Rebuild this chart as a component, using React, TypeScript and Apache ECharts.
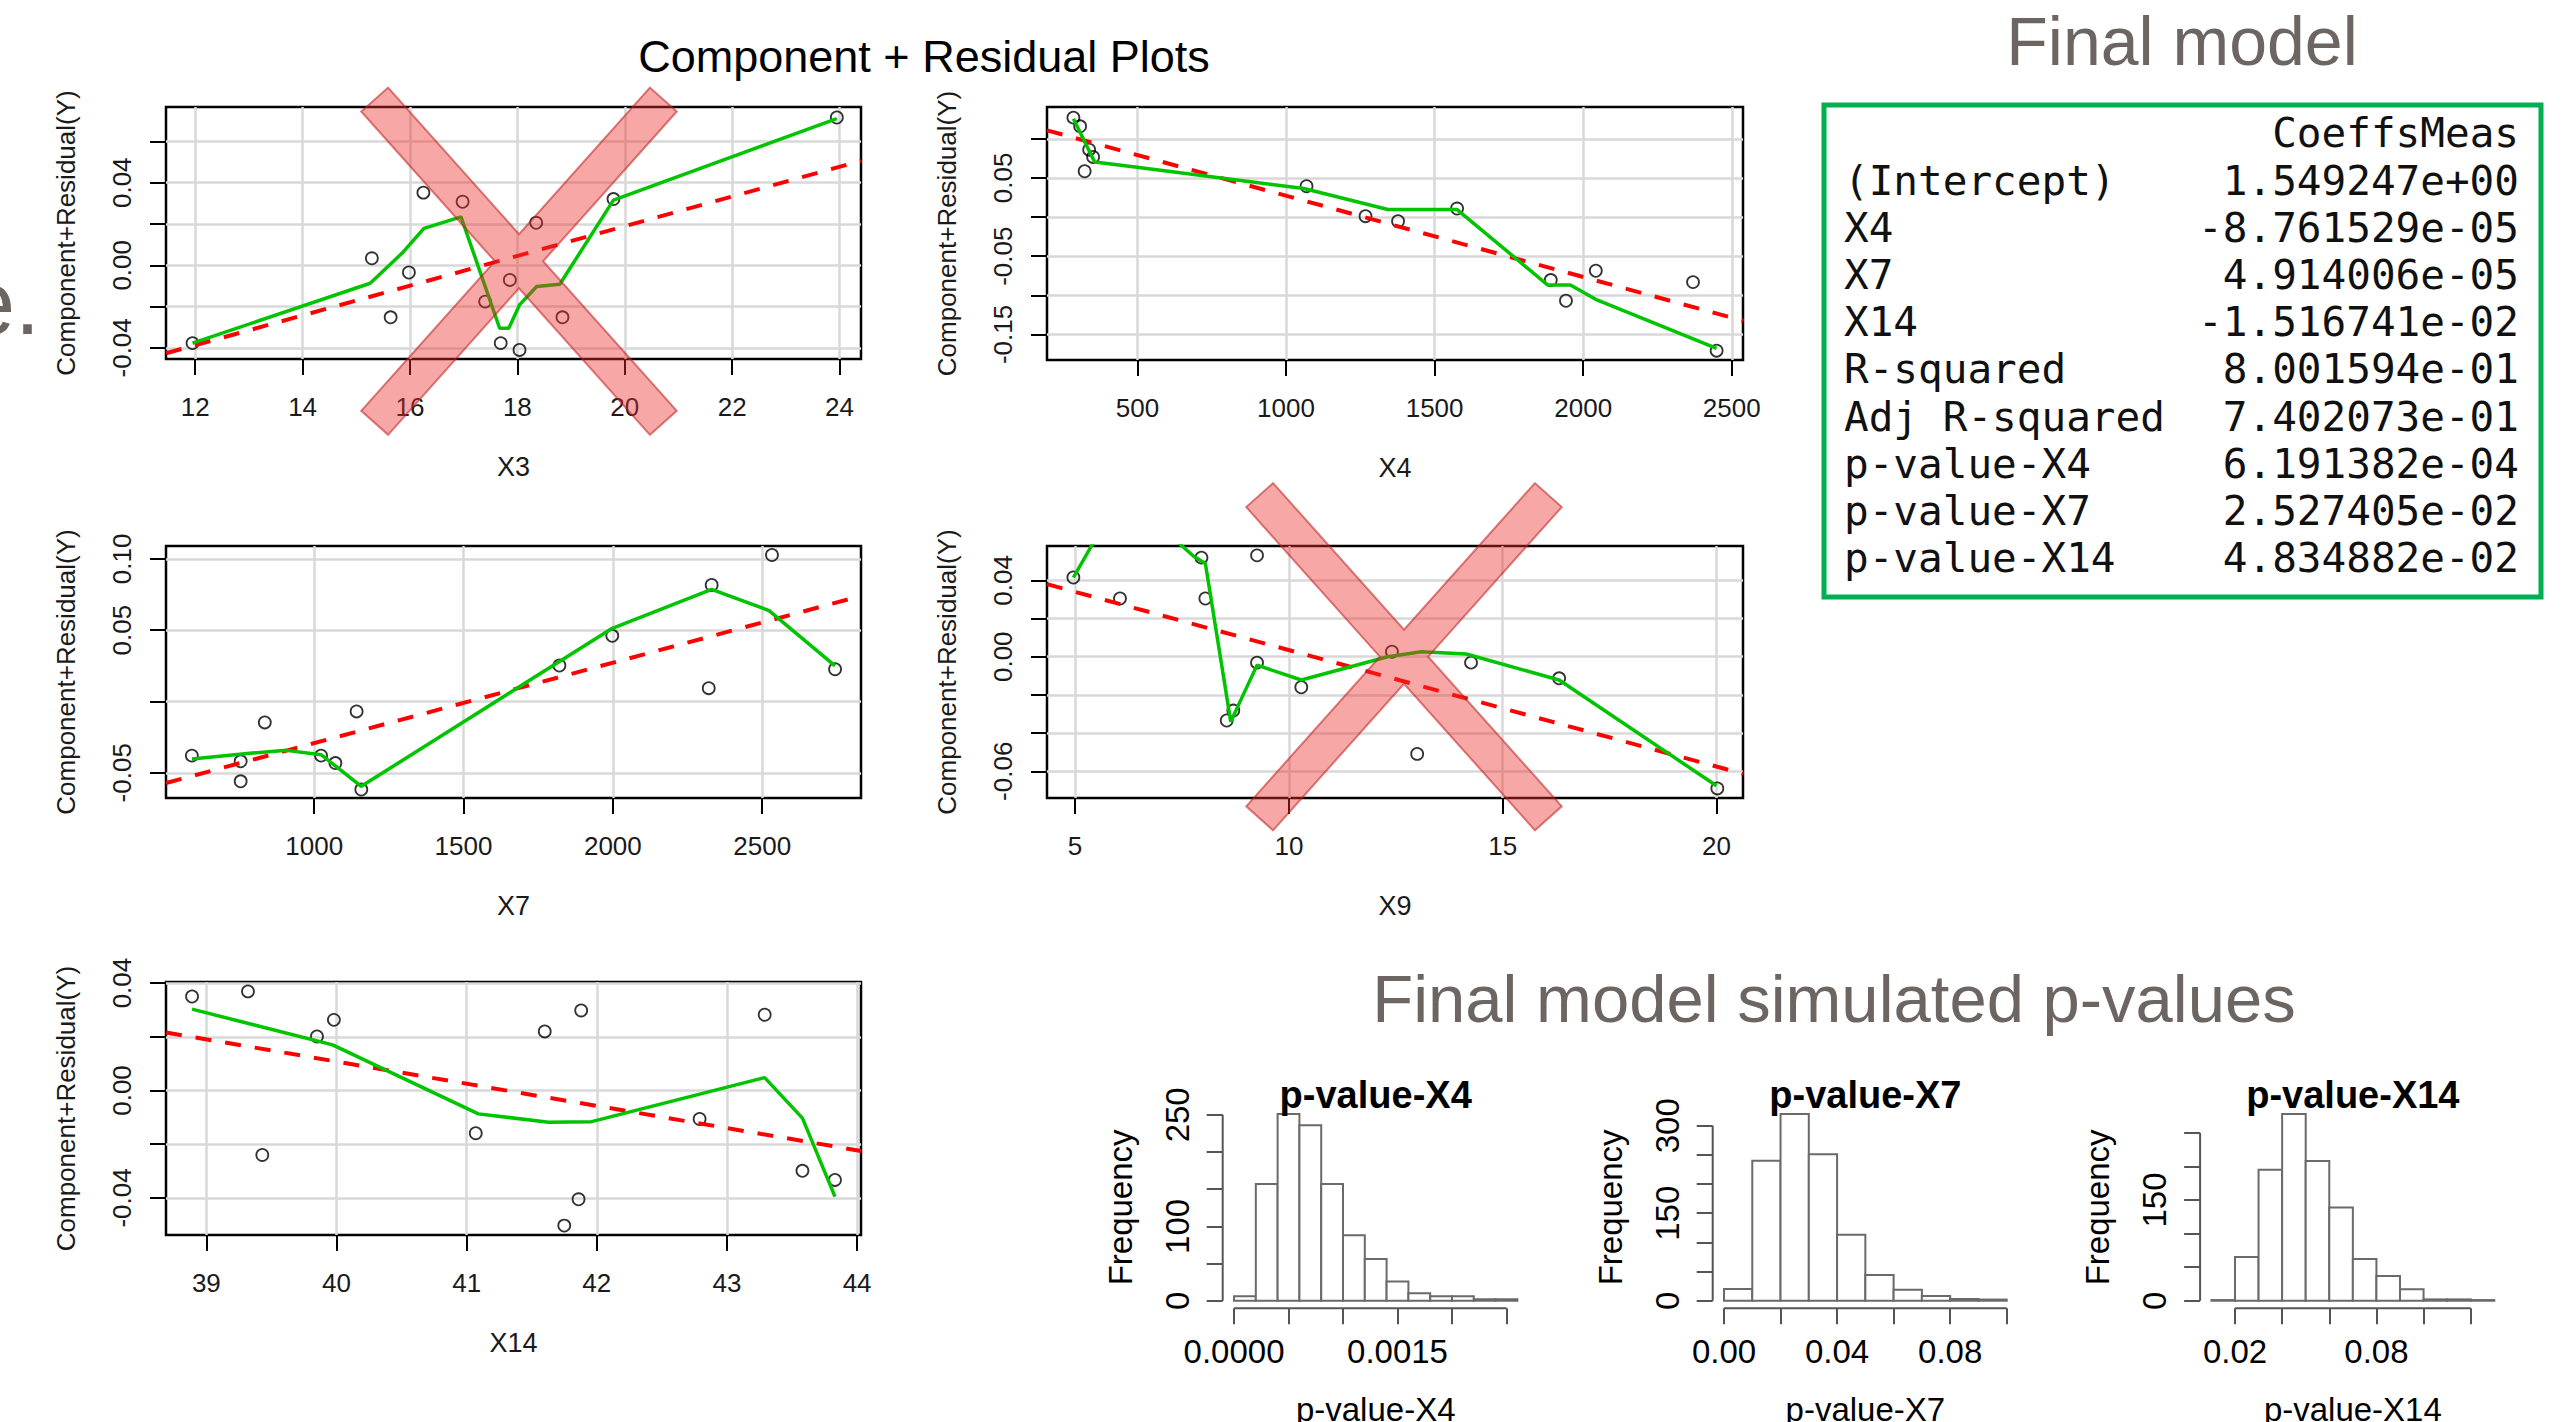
import React, { useEffect, useRef } from "react";
import * as echarts from "echarts";

// ---------------- Component + Residual panels: data ----------------
// X3
const x3PointX = [11.95, 15.29, 16.25, 15.98, 15.64, 16.98, 18.35, 17.86, 17.4, 17.69, 18.04, 18.84, 19.79, 23.95];
const x3PointY = [-0.0377, 0.0034, 0.0352, -0.0035, -0.0252, 0.0308, 0.0206, -0.0071, -0.0176, -0.0377, -0.041, -0.0252, 0.0321, 0.0716];
const x3FitX = [11.456, 24.4];
const x3FitY = [-0.0426, 0.0506];
const x3SmoothX = [11.95, 15.26, 15.85, 16.26, 16.95, 17.67, 17.84, 18.04, 18.36, 18.79, 19.79, 23.95];
const x3SmoothY = [-0.0377, -0.0087, 0.0058, 0.0179, 0.0235, -0.0305, -0.0305, -0.0192, -0.0103, -0.0092, 0.0316, 0.0711];
const x3XLim = [11.456, 24.4];
const x3YLim = [-0.0454, 0.0767];
const x3XTicks = [12, 14, 16, 18, 20, 22, 24];
const x3YTicks = [-0.04, -0.02, 0, 0.02, 0.04, 0.06];
const x3YLabels = [-0.04, 0, 0.04];

// X4
const x4PointX = [284.5, 307, 337.4, 350.7, 322.3, 1069, 1267.5, 1377, 1575.6, 1891, 1942, 2042.5, 2369.6, 2449];
const x4PointY = [0.127, 0.1159, 0.0861, 0.0768, 0.0585, 0.0394, 0.0011, -0.0053, 0.0109, -0.0805, -0.1069, -0.0686, -0.0831, -0.1707];
const x4FitX = [195.6, 2537.8];
const x4FitY = [0.1108, -0.1324];
const x4SmoothX = [284.5, 356, 492, 1060, 1343, 1575.6, 1881, 1957, 2042, 2449];
const x4SmoothY = [0.1257, 0.0704, 0.064, 0.0364, 0.0096, 0.0096, -0.0869, -0.0869, -0.105, -0.1677];
const x4XLim = [195.6, 2537.8];
const x4YLim = [-0.1826, 0.1406];
const x4XTicks = [500, 1000, 1500, 2000, 2500];
const x4YTicks = [-0.15, -0.1, -0.05, 0, 0.05, 0.1];
const x4YLabels = [-0.15, -0.05, 0.05];

// X7
const x7PointX = [590.4, 753.8, 753.8, 834.6, 1023, 1071, 1142, 1157.7, 1821, 1998, 2321, 2330.8, 2532.7, 2744];
const x7PointY = [-0.038, -0.042, -0.056, -0.0147, -0.038, -0.0432, -0.007, -0.0618, 0.0252, 0.046, 0.0093, 0.0817, 0.1027, 0.0226];
const x7FitX = [503.8, 2830.8];
const x7FitY = [-0.0572, 0.074];
const x7SmoothX = [590.4, 792.3, 907.7, 1023, 1157.7, 1998, 2330.8, 2523, 2744];
const x7SmoothY = [-0.0404, -0.0362, -0.0343, -0.0373, -0.0595, 0.0513, 0.0786, 0.0637, 0.025];
const x7XLim = [503.8, 2830.8];
const x7YLim = [-0.0677, 0.109];
const x7XTicks = [1000, 1500, 2000, 2500];
const x7YTicks = [-0.05, 0, 0.05, 0.1];
const x7YLabels = [-0.05, 0.05, 0.1];

// X9
const x9PointX = [4.96, 6.05, 7.955, 8.047, 9.255, 9.255, 8.546, 8.7, 10.29, 12.41, 13.0, 14.26, 16.32, 20.02];
const x9PointY = [0.0415, 0.0305, 0.0519, 0.0305, 0.0531, -0.0031, -0.0334, -0.0282, -0.016, 0.0026, -0.0509, -0.0031, -0.0113, -0.069];
const x9FitX = [4.343, 20.62];
const x9FitY = [0.038, -0.0613];
const x9SmoothX = [4.96, 6.2, 7.3, 7.78, 8.047, 8.64, 9.255, 10.29, 12.31, 13.1, 14.15, 16.32, 20.0];
const x9SmoothY = [0.0415, 0.09, 0.062, 0.0525, 0.0488, -0.034, -0.0044, -0.0122, 0.0, 0.0026, 0.0014, -0.0122, -0.0676];
const x9XLim = [4.343, 20.62];
const x9YLim = [-0.074, 0.058];
const x9XTicks = [5, 10, 15, 20];
const x9YTicks = [-0.06, -0.04, -0.02, 0, 0.02, 0.04];
const x9YLabels = [-0.06, 0, 0.04];

// X14
const x14PointX = [38.89, 39.32, 39.43, 39.85, 39.98, 41.07, 41.6, 41.88, 41.86, 41.75, 42.79, 43.29, 43.58, 43.83];
const x14PointY = [0.035, 0.0369, -0.024, 0.0201, 0.0263, -0.0159, 0.022, 0.0298, -0.0405, -0.0503, -0.0106, 0.0282, -0.0299, -0.0333];
const x14FitX = [38.69, 44.03];
const x14FitY = [0.0216, -0.0225];
const x14SmoothX = [38.89, 39.97, 41.09, 41.63, 41.96, 43.29, 43.58, 43.83];
const x14SmoothY = [0.0303, 0.017, -0.0087, -0.0118, -0.0116, 0.0048, -0.0103, -0.0395];
const x14XLim = [38.69, 44.03];
const x14YLim = [-0.0538, 0.0404];
const x14XTicks = [39, 40, 41, 42, 43, 44];
const x14YTicks = [-0.04, -0.02, 0, 0.02, 0.04];
const x14YLabels = [-0.04, 0, 0.04];

// ---------------- Histograms: data ----------------
const h4Breaks = [0, 0.0002, 0.0004, 0.0006, 0.0008, 0.001, 0.0012, 0.0014, 0.0016, 0.0018, 0.002, 0.0022, 0.0024, 0.0026];
const h4Counts = [6, 157, 251, 236, 157, 88, 56, 26, 10, 6, 6, 2, 2];
const h4XTicks = [0, 0.0005, 0.001, 0.0015, 0.002, 0.0025];
const h4XLabels = [0, 0.0015];
const h4YTicks = [0, 50, 100, 150, 200, 250];
const h4YLabels = [0, 100, 250];

const h7Breaks = [0, 0.01, 0.02, 0.03, 0.04, 0.05, 0.06, 0.07, 0.08, 0.09, 0.1];
const h7Counts = [20, 240, 320, 251, 113, 44, 19, 8, 3, 2];
const h7XTicks = [0, 0.02, 0.04, 0.06, 0.08, 0.1];
const h7XLabels = [0, 0.04, 0.08];
const h7YTicks = [0, 50, 100, 150, 200, 250, 300];
const h7YLabels = [0, 150, 300];

const h14Breaks = [0.01, 0.02, 0.03, 0.04, 0.05, 0.06, 0.07, 0.08, 0.09, 0.1, 0.11, 0.12, 0.13];
const h14Counts = [1, 65, 195, 278, 208, 139, 62, 37, 17, 2, 2, 1];
const h14XTicks = [0.02, 0.04, 0.06, 0.08, 0.1, 0.12];
const h14XLabels = [0.02, 0.08];
const h14YTicks = [0, 50, 100, 150, 200, 250];
const h14YLabels = [0, 150];

// ---------------- Table ----------------
const tableHeader = "CoeffsMeas";
const tableLabels = ["(Intercept)", "X4", "X7", "X14", "R-squared", "Adj R-squared", "p-value-X4", "p-value-X7", "p-value-X14"];
const tableValues = ["1.549247e+00", "-8.761529e-05", "4.914006e-05", "-1.516741e-02", "8.001594e-01", "7.402073e-01", "6.191382e-04", "2.527405e-02", "4.834882e-02"];

// ---------------- styling / layout ----------------
const FONT = "'Liberation Sans', Arial, Helvetica, sans-serif";
const MONO = "'DejaVu Sans Mono', 'Liberation Mono', monospace";
const SLIDE_GRAY = "#6d6562";
const R_TEXT = "#1a1a1a";

const zip = (xs: number[], ys: number[]) => xs.map((x, i) => [x, ys[i]]);
const fmt2 = (v: number) => (Math.abs(v) < 1e-12 ? "0.00" : v.toFixed(2));
const fmtInt = (v: number) => String(Math.round(v));

const panels = [
  { box: { left: 166, top: 107, width: 695, height: 252 }, name: "X3", xLim: x3XLim, yLim: x3YLim, xTicks: x3XTicks, yTicks: x3YTicks, yLabels: x3YLabels, px: x3PointX, py: x3PointY, fx: x3FitX, fy: x3FitY, sx: x3SmoothX, sy: x3SmoothY },
  { box: { left: 1047, top: 107, width: 696, height: 253 }, name: "X4", xLim: x4XLim, yLim: x4YLim, xTicks: x4XTicks, yTicks: x4YTicks, yLabels: x4YLabels, px: x4PointX, py: x4PointY, fx: x4FitX, fy: x4FitY, sx: x4SmoothX, sy: x4SmoothY },
  { box: { left: 166, top: 546, width: 695, height: 252 }, name: "X7", xLim: x7XLim, yLim: x7YLim, xTicks: x7XTicks, yTicks: x7YTicks, yLabels: x7YLabels, px: x7PointX, py: x7PointY, fx: x7FitX, fy: x7FitY, sx: x7SmoothX, sy: x7SmoothY },
  { box: { left: 1047, top: 546, width: 696, height: 252 }, name: "X9", xLim: x9XLim, yLim: x9YLim, xTicks: x9XTicks, yTicks: x9YTicks, yLabels: x9YLabels, px: x9PointX, py: x9PointY, fx: x9FitX, fy: x9FitY, sx: x9SmoothX, sy: x9SmoothY },
  { box: { left: 166, top: 982, width: 695, height: 253 }, name: "X14", xLim: x14XLim, yLim: x14YLim, xTicks: x14XTicks, yTicks: x14YTicks, yLabels: x14YLabels, px: x14PointX, py: x14PointY, fx: x14FitX, fy: x14FitY, sx: x14SmoothX, sy: x14SmoothY },
];

const hists = [
  { box: { left: 1222.7, top: 1106.6, width: 306, height: 201.6 }, title: "p-value-X4", breaks: h4Breaks, counts: h4Counts, xTicks: h4XTicks, xLabels: h4XLabels, yTicks: h4YTicks, yLabels: h4YLabels, xFmt: (v: number) => v.toFixed(4) },
  { box: { left: 1712.7, top: 1106.6, width: 305.3, height: 201.6 }, title: "p-value-X7", breaks: h7Breaks, counts: h7Counts, xTicks: h7XTicks, xLabels: h7XLabels, yTicks: h7YTicks, yLabels: h7YLabels, xFmt: (v: number) => v.toFixed(2) },
  { box: { left: 2200.1, top: 1106.6, width: 305.5, height: 201.6 }, title: "p-value-X14", breaks: h14Breaks, counts: h14Counts, xTicks: h14XTicks, xLabels: h14XLabels, yTicks: h14YTicks, yLabels: h14YLabels, xFmt: (v: number) => v.toFixed(2) },
];

// Red "X" outline (local coordinates around a centre)
function crossPoints(cx: number, cy: number) {
  const local = [
    [-130.92, -173.64], [0, -27.03], [130.92, -173.64], [157.78, -149.66], [24.13, 0],
    [157.78, 149.66], [130.92, 173.64], [0, 27.03], [-130.92, 173.64], [-157.78, 149.66],
    [-24.13, 0], [-157.78, -149.66],
  ];
  return local.map(([x, y]) => [cx + x, cy + y]);
}

function textEl(text: string, x: number, y: number, fontSize: number, fill: string, opts: any = {}) {
  const align = opts.align || "center";
  return {
    type: "text",
    x,
    y,
    z: 50,
    style: {
      text,
      fontSize,
      fontFamily: opts.fontFamily || FONT,
      fontWeight: opts.fontWeight || "normal",
      fill,
      align,
      textAlign: align,
      verticalAlign: "middle",
      textVerticalAlign: "middle",
    },
  };
}

function buildOption() {
  const grid: any[] = [];
  const xAxis: any[] = [];
  const yAxis: any[] = [];
  const series: any[] = [];

  panels.forEach((p, i) => {
    grid.push({ ...p.box, show: true, borderColor: "#000", borderWidth: 2.5, backgroundColor: "rgba(0,0,0,0)", containLabel: false, outerBoundsMode: "none" });
    xAxis.push({
      gridIndex: i,
      type: "value",
      position: "bottom",
      min: p.xLim[0],
      max: p.xLim[1],
      axisLine: { show: false, onZero: false },
      axisTick: { show: true, inside: false, length: 16, customValues: p.xTicks, lineStyle: { color: "#000", width: 2 } },
      axisLabel: { show: true, customValues: p.xTicks, margin: 35, fontSize: 26, color: R_TEXT, fontFamily: FONT, formatter: fmtInt, hideOverlap: false },
      splitLine: { show: true, lineStyle: { color: "#d8d8d8", width: 2.5 } },
      name: p.name,
      nameLocation: "middle",
      nameGap: 94,
      nameTextStyle: { fontSize: 27, color: R_TEXT, fontFamily: FONT },
    });
    yAxis.push({
      gridIndex: i,
      type: "value",
      position: "left",
      min: p.yLim[0],
      max: p.yLim[1],
      axisLine: { show: false, onZero: false },
      axisTick: { show: true, inside: false, length: 16, customValues: p.yTicks, lineStyle: { color: "#000", width: 2 } },
      axisLabel: { show: true, customValues: p.yLabels, rotate: 90, margin: 31, fontSize: 26, color: R_TEXT, fontFamily: FONT, formatter: fmt2, hideOverlap: false },
      splitLine: { show: true, lineStyle: { color: "#d8d8d8", width: 2.5 } },
      name: "Component+Residual(Y)",
      nameLocation: "middle",
      nameGap: 87,
      nameTextStyle: { fontSize: 26, color: R_TEXT, fontFamily: FONT },
    });
    series.push({
      type: "scatter",
      xAxisIndex: i,
      yAxisIndex: i,
      data: zip(p.px, p.py),
      symbol: "circle",
      symbolSize: 12,
      itemStyle: { color: "rgba(0,0,0,0)", borderColor: "#000", borderWidth: 1.8 },
      z: 2,
      silent: true,
    });
    series.push({
      type: "line",
      xAxisIndex: i,
      yAxisIndex: i,
      data: zip(p.fx, p.fy),
      symbol: "none",
      clip: true,
      lineStyle: { color: "#ff0000", width: 4, type: [16, 14] },
      z: 3,
      silent: true,
    });
    series.push({
      type: "line",
      xAxisIndex: i,
      yAxisIndex: i,
      data: zip(p.sx, p.sy),
      symbol: "none",
      clip: true,
      lineStyle: { color: "#00c400", width: 3.5 },
      z: 4,
      silent: true,
    });
  });

  hists.forEach((h, j) => {
    const gi = panels.length + j;
    const b0 = h.breaks[0];
    const bN = h.breaks[h.breaks.length - 1];
    const xPad = 0.04 * (bN - b0);
    const maxC = Math.max(...h.counts);
    const yPad = 0.04 * maxC;
    const xMin = b0 - xPad;
    const yMin = -yPad;
    grid.push({ ...h.box, show: false, containLabel: false, outerBoundsMode: "none" });
    xAxis.push({
      gridIndex: gi,
      type: "value",
      position: "bottom",
      min: xMin,
      max: bN + xPad,
      axisLine: { show: false, onZero: false },
      axisTick: { show: true, inside: false, length: 16, customValues: h.xTicks, lineStyle: { color: "#555", width: 2 } },
      axisLabel: { show: true, customValues: h.xLabels, margin: 27, fontSize: 33, color: "#000", fontFamily: FONT, formatter: h.xFmt, hideOverlap: false },
      splitLine: { show: false },
      name: h.title,
      nameLocation: "middle",
      nameGap: 85,
      nameTextStyle: { fontSize: 33, color: "#000", fontFamily: FONT },
    });
    yAxis.push({
      gridIndex: gi,
      type: "value",
      position: "left",
      min: yMin,
      max: maxC + yPad,
      axisLine: { show: false, onZero: false },
      axisTick: { show: true, inside: false, length: 16, customValues: h.yTicks, lineStyle: { color: "#555", width: 2 } },
      axisLabel: { show: true, customValues: h.yLabels, rotate: 90, margin: 29, fontSize: 33, color: "#000", fontFamily: FONT, formatter: fmtInt, hideOverlap: false },
      splitLine: { show: false },
      name: "Frequency",
      nameLocation: "middle",
      nameGap: 86,
      nameTextStyle: { fontSize: 33, color: "#000", fontFamily: FONT },
    });
    series.push({
      type: "custom",
      xAxisIndex: gi,
      yAxisIndex: gi,
      silent: true,
      data: h.counts.map((c, k) => [h.breaks[k], h.breaks[k + 1], c]),
      renderItem: (_params: any, api: any) => {
        const a = api.coord([api.value(0), api.value(2)]);
        const b = api.coord([api.value(1), 0]);
        return {
          type: "rect",
          shape: { x: a[0], y: a[1], width: b[0] - a[0], height: b[1] - a[1] },
          style: { fill: "#ffffff", stroke: "#6a6a6a", lineWidth: 2 },
        };
      },
    });
    series.push({
      type: "custom",
      xAxisIndex: gi,
      yAxisIndex: gi,
      silent: true,
      data: [[h.xTicks[0], h.xTicks[h.xTicks.length - 1], h.yTicks[0], h.yTicks[h.yTicks.length - 1], xMin, yMin]],
      renderItem: (_params: any, api: any) => {
        const a = api.coord([api.value(0), api.value(5)]);
        const b = api.coord([api.value(1), api.value(5)]);
        const c = api.coord([api.value(4), api.value(2)]);
        const d = api.coord([api.value(4), api.value(3)]);
        return {
          type: "group",
          children: [
            { type: "line", shape: { x1: a[0], y1: a[1], x2: b[0], y2: b[1] }, style: { stroke: "#555", lineWidth: 2 } },
            { type: "line", shape: { x1: c[0], y1: c[1], x2: d[0], y2: d[1] }, style: { stroke: "#555", lineWidth: 2 } },
          ],
        };
      },
    });
  });

  const graphic: any[] = [
    textEl("Component + Residual Plots", 924, 56, 45, "#000"),
    textEl("e.", -35, 303, 90, SLIDE_GRAY, { align: "left" }),
    textEl("Final model", 2182, 41, 68, SLIDE_GRAY),
    textEl("Final model simulated p-values", 1834, 998, 67, SLIDE_GRAY),
    {
      type: "rect",
      z: 40,
      shape: { x: 1824, y: 105, width: 717, height: 492 },
      style: { fill: "rgba(0,0,0,0)", stroke: "#00b050", lineWidth: 5 },
    },
    textEl(tableHeader, 2519, 133, 41, "#111", { align: "right", fontFamily: MONO }),
    ...tableLabels.map((t, k) => textEl(t, 1844, 181 + 47.1 * k, 41, "#111", { align: "left", fontFamily: MONO })),
    ...tableValues.map((t, k) => textEl(t, 2519, 181 + 47.1 * k, 41, "#111", { align: "right", fontFamily: MONO })),
    ...hists.map((h) => textEl(h.title, h.box.left + h.box.width / 2, 1095, 38, "#000", { fontWeight: "bold" })),
    {
      type: "polygon",
      z: 100,
      shape: { points: crossPoints(519, 261.2) },
      style: { fill: "rgba(238,45,45,0.42)", stroke: "rgba(190,30,30,0.55)", lineWidth: 2 },
    },
    {
      type: "polygon",
      z: 100,
      shape: { points: crossPoints(1404, 656.7) },
      style: { fill: "rgba(238,45,45,0.42)", stroke: "rgba(190,30,30,0.55)", lineWidth: 2 },
    },
  ];

  return {
    animation: false,
    backgroundColor: "#ffffff",
    textStyle: { fontFamily: FONT },
    grid,
    xAxis,
    yAxis,
    series,
    graphic,
  };
}

export default function App() {
  const ref = useRef<HTMLDivElement>(null);
  useEffect(() => {
    if (!ref.current) return;
    const chart = echarts.init(ref.current, null, { renderer: "svg" });
    chart.setOption(buildOption() as any);
    return () => {
      chart.dispose();
    };
  }, []);
  return (
    <div
      ref={ref}
      style={{ position: "absolute", left: 0, top: 0, width: 2575, height: 1422, background: "#fff", overflow: "hidden" }}
    />
  );
}
